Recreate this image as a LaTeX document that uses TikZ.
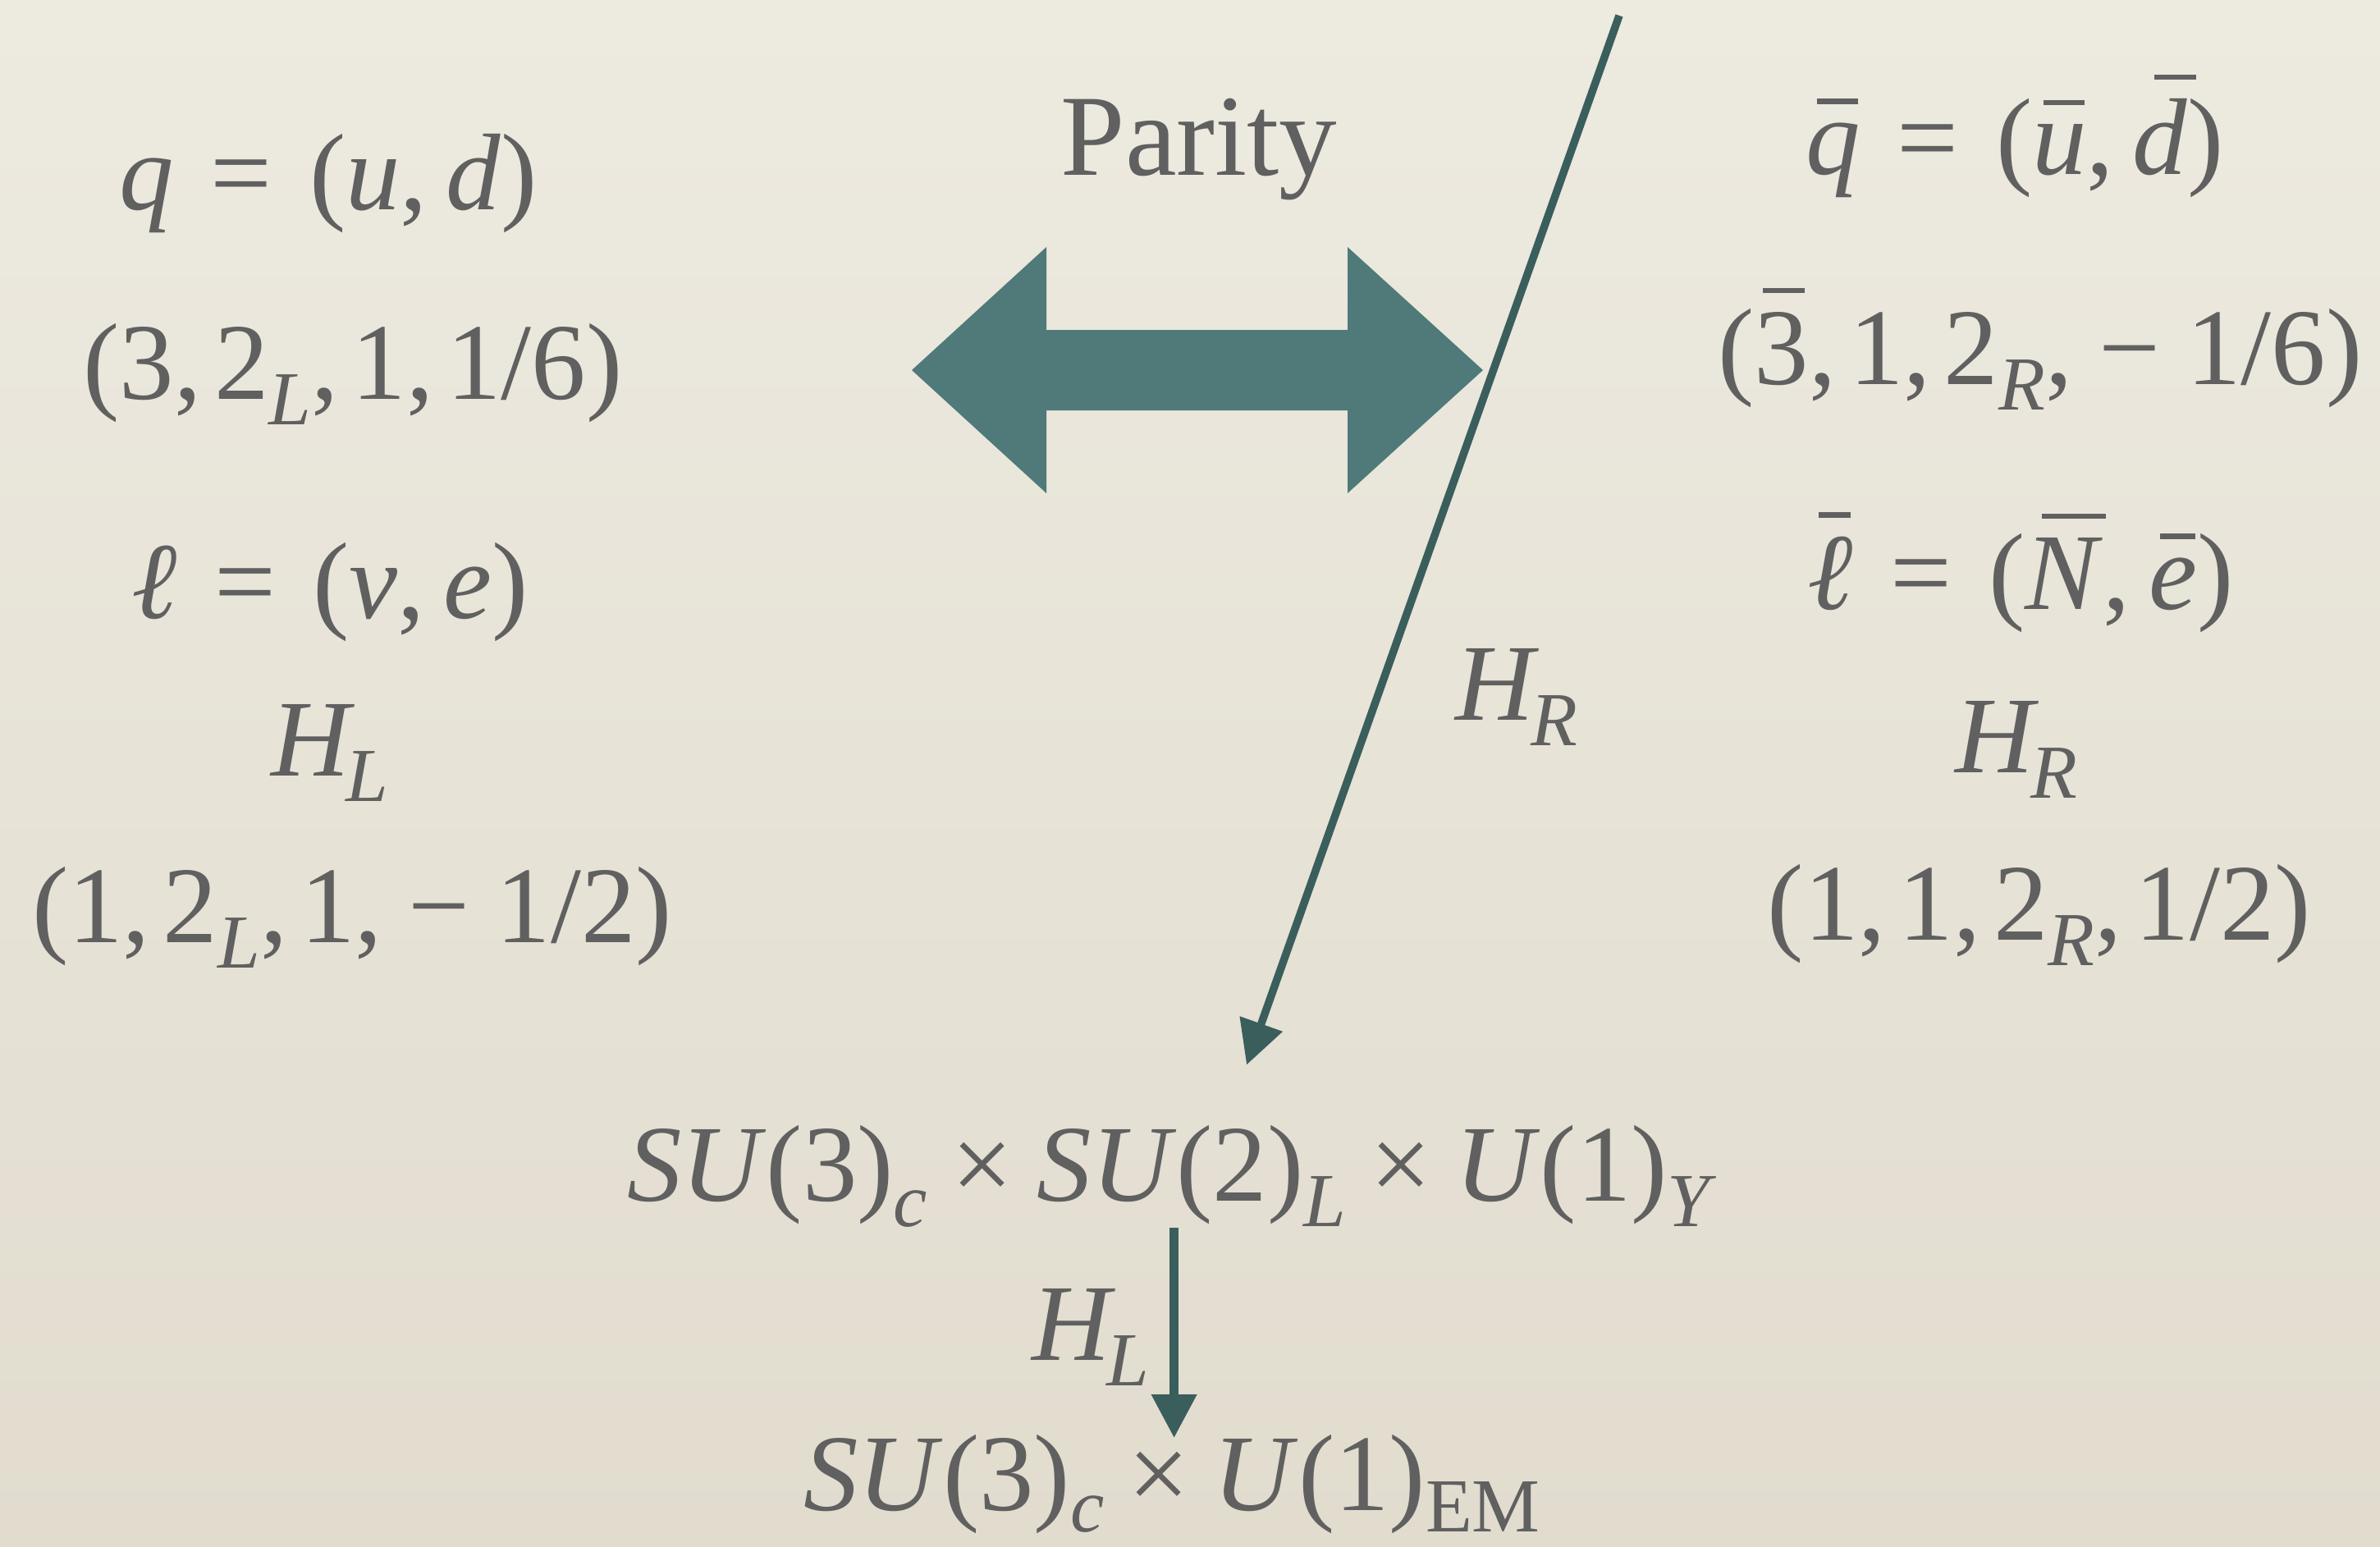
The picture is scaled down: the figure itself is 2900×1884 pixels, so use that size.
\documentclass[tikz,border=0pt]{standalone}
\usepackage{fontspec}
\setmainfont{Liberation Serif}
\usepackage{graphicx}
\usetikzlibrary{arrows.meta}
\definecolor{txt}{RGB}{96,96,96}
\definecolor{bgtop}{RGB}{237,234,224}
\definecolor{bgbot}{RGB}{225,220,206}
\definecolor{lin}{RGB}{58,94,92}
\definecolor{arw}{RGB}{79,122,121}
\newcommand\myit[1]{\textit{#1}}
\newcommand\mysub[1]{\raisebox{-0.235em}{\scalebox{0.7}{#1}}}
\newcommand\mylowsub[1]{\raisebox{-0.2em}{\scalebox{0.7}{#1}}}
\newcommand\myrel{\hspace{0.34em}=\hspace{0.34em}}
\newcommand\mybin{\hspace{0.22em}×\hspace{0.22em}}
\newcommand\mycm{,\hspace{0.12em}}
\newcommand\myov[2][0.1em]{\leavevmode\setbox0\hbox{#2}\hbox{\rlap{\hskip#1\rule[\dimexpr\ht0+0.17em\relax]{\dimexpr\wd0-0.12em\relax}{0.05em}}\box0}}
\begin{document}
\begin{tikzpicture}[x=0.01cm,y=-0.01cm,
  eq/.style={font=\fontsize{37.8}{45}\selectfont, text=txt, inner sep=0pt, anchor=base},
  conn/.style={draw=lin, -{Triangle[length=0.53cm,width=0.53cm]}}]
\begin{scope}[y=0.01cm]
\shade[top color=bgtop,bottom color=bgbot] (0,0) rectangle (2900,-1884);
\end{scope}
\useasboundingbox (0,0) rectangle (2900,1884);

% left column
\node[eq] (q) at (400,255) {\myit{q}\myrel(\myit{u},\hspace{0.17em}\myit{d}\/)};
\node[eq] (qrep) at (430,486) {(3\mycm 2\mysub{\myit{L}}\mycm 1\mycm 1/6)};
\node[eq] (l) at (402,753) {\myit{ℓ}\myrel(\myit{ν},\hspace{0.17em}\myit{e}\/)};
\node[eq] (hl) at (402,945) {\myit{H}\hspace{-0.08em}\mysub{\myit{L}}};
\node[eq] (hlrep) at (429,1148) {(1\mycm 2\mysub{\myit{L}}\mycm 1,\hspace{0.24em}−\hspace{0.24em}1/2)};

% right column
\node[eq] (qb) at (2455,212) {\myov{\myit{q}}\myrel(\myov{\myit{u}},\hspace{0.17em}\myov[0.2em]{\myit{d}}\/)};
\node[eq] (qbrep) at (2486,468) {(\myov[0.08em]{3}\mycm 1\mycm 2\mysub{\myit{R}},\hspace{0.24em}−\hspace{0.24em}1/6)};
\node[eq] (lb) at (2462,742) {\myov{\myit{ℓ}}\myrel(\myov[0.15em]{\myit{N}},\hspace{0.17em}\myov{\myit{e}}\/)};
\node[eq] (hr) at (2457,941) {\myit{H}\hspace{-0.08em}\mysub{\myit{R}}};
\node[eq] (hrrep) at (2485,1145) {(1\mycm 1\mycm 2\mysub{\myit{R}}\mycm 1/2)};

% middle
\node[eq, font=\fontsize{40.1}{48}\selectfont] (parity) at (1461,213.5) {Parity};
\fill[arw] (1111,451) -- (1275,301) -- (1275,402) -- (1642,402) -- (1642,301) -- (1807,451)
  -- (1642,601) -- (1642,500) -- (1275,500) -- (1275,601) -- cycle;
\node[eq] (hrlab) at (1848,877) {\myit{H}\hspace{-0.08em}\mysub{\myit{R}}};
\node[eq] (sm) at (1428,1463) {\myit{SU}(3)\mysub{\myit{c}}\mybin\myit{SU}(2)\mysub{\myit{L}}\mybin\myit{U}(1)\mysub{\myit{Y}}};
\node[eq] (emg) at (1428,1840) {\myit{SU}(3)\mylowsub{\myit{c}}\mybin\myit{U}(1)\mylowsub{EM}};
\node[eq] (hllab) at (1329,1657.5) {\myit{H}\hspace{-0.08em}\mysub{\myit{L}}};

\coordinate (hrtop) at (1973,19);
\coordinate (hrend) at (1519,1297.5);
\draw[conn, line width=0.095cm] (hrtop) -- (hrend);
\coordinate (vtop) at (1430.6,1495.5);
\coordinate (vend) at (1430.6,1752);
\draw[conn, line width=0.105cm] (vtop) -- (vend);
\end{tikzpicture}
\end{document}
